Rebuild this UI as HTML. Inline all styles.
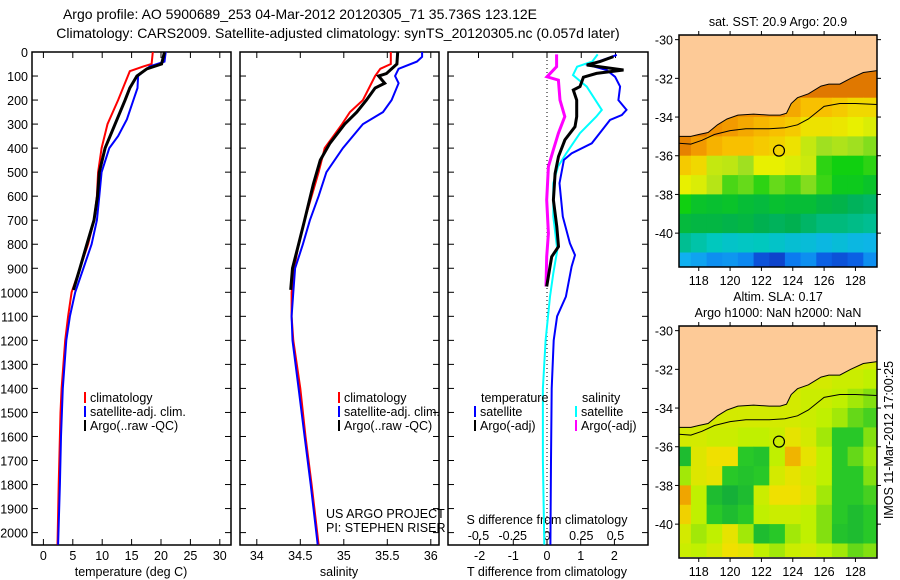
<!DOCTYPE html>
<html><head><meta charset="utf-8"><style>
body{margin:0;background:#fff}
svg{display:block;font-family:"Liberation Sans",Arial,sans-serif}
text{font-size:12.5px;fill:#000}
</style></head><body>
<svg id="c" width="900" height="580" viewBox="0 0 900 580" xmlns="http://www.w3.org/2000/svg">
<defs>
<clipPath id="cp1"><rect x="32" y="52" width="199" height="493"/></clipPath>
<clipPath id="cp2"><rect x="240" y="52" width="199" height="493"/></clipPath>
<clipPath id="cp3"><rect x="448" y="52" width="200" height="493"/></clipPath>
<clipPath id="cm1"><rect x="679" y="35" width="198" height="232"/></clipPath>
<clipPath id="cm2"><rect x="679" y="326" width="198" height="231"/></clipPath>
</defs>
<text x="300" y="19" text-anchor="middle" style="font-size:14px">Argo profile: AO 5900689_253 04-Mar-2012 20120305_71 35.736S 123.12E</text>
<text x="338" y="38" text-anchor="middle" style="font-size:14px">Climatology: CARS2009. Satellite-adjusted climatology: synTS_20120305.nc (0.057d later)</text>
<text x="778" y="26" text-anchor="middle">sat. SST: 20.9 Argo: 20.9</text>
<text x="778" y="301" text-anchor="middle">Altim. SLA: 0.17</text>
<text x="778" y="317" text-anchor="middle">Argo h1000: NaN h2000: NaN</text>
<text transform="translate(893,440) rotate(-90)" text-anchor="middle">IMOS 11-Mar-2012 17:00:25</text>
<g id="g"></g>
</svg>
<script>
// ---------- data ----------
const tDepth = [0,50,60,80,110,200,300,400,500,600,700,800,900,1000,1100,1200,1300,1400,1500,1600,1800,2050];
const tClim  = [18.6,18.4,17,14.7,14.2,12.7,10.9,9.9,9.3,9.1,8.6,7.6,6.2,4.8,4.2,3.7,3.4,3.1,2.9,2.8,2.6,2.4];
const tSatDepth = [0,40,60,100,150,200,280,350,400,500,600,700,800,900,1000,1100,1200,1400,1600,1800,2050];
const tSat   = [20.8,20.6,18.1,16.1,16,15.3,14.2,12.7,11.2,9.9,9.5,9.1,8.2,6.8,5.4,4.5,3.9,3.3,3.0,2.8,2.5];
const argoDepth = [0,50,70,100,150,200,300,400,500,600,700,800,900,990];
const tArgo  = [20.6,20.1,17.6,15.9,14.7,13.9,12.2,10.5,9.5,9.2,8.6,7.4,6.2,5.1];
const sDepth = [0,50,70,100,200,250,300,400,500,600,700,800,900,1000,1100,1200,1400,1600,1800,2050];
const sClim  = [35.54,35.54,35.42,35.36,35.22,35.07,34.98,34.78,34.71,34.63,34.55,34.48,34.43,34.40,34.40,34.42,34.5,34.56,34.63,34.71];
const sSatDepth = [0,20,40,70,100,130,200,250,300,400,500,600,700,800,900,1000,1100,1200,1400,1600,1800,2050];
const sSat   = [35.9,35.9,35.84,35.63,35.59,35.63,35.55,35.45,35.22,34.99,34.80,34.71,34.61,34.53,34.44,34.42,34.40,34.41,34.48,34.55,34.62,34.70];
const sArgoDepth = [0,50,90,100,130,150,200,250,300,380,450,550,700,800,900,990];
const sArgo  = [35.62,35.61,35.49,35.40,35.47,35.36,35.26,35.15,35.01,34.84,34.73,34.65,34.55,34.48,34.41,34.39];
const dTSatDepth = [12,54,75,103,144,200,241,262,283,380,422,449,546,685,796,845,893,1018,1100,1200,1400,1700,2050];
const dTSat = [2.07,1.23,1.77,2.02,2.17,2.12,2.36,2.22,1.87,1.33,0.73,0.50,0.37,0.47,0.68,0.83,0.73,0.56,0.3,0.2,0.14,0.12,0.1];
const dTArgoDepth = [19,40,54,75,89,105,144,158,200,269,311,366,435,505,616,727,810,852,893,976];
const dTArgo = [1.97,1.57,1.18,2.27,1.47,1.08,0.98,0.78,0.88,0.88,0.83,0.53,0.34,0.24,0.19,0.29,0.34,0.14,0.09,-0.01];
const dSSatDepth = [10,40,61,96,144,241,269,338,422,477,546,685,824,921,1018,1200,1400,1700,2050];
const dSSat = [0.37,0.33,0.22,0.19,0.29,0.40,0.36,0.24,0.14,0.08,0.046,0.046,0.075,0.046,0.022,-0.01,-0.03,-0.03,-0.02];
const dSArgoDepth = [10,61,103,117,200,269,338,408,477,616,755,852,976];
const dSArgo = [0.07,0.07,0.0,0.083,0.095,0.13,0.083,0.046,0.01,-0.002,0.01,-0.002,-0.007];
const depthTicks = [0,100,200,300,400,500,600,700,800,900,1000,1100,1200,1300,1400,1500,1600,1700,1800,1900,2000];
const tTicks = [0,5,10,15,20,25,30];
const sTicks = [34,34.5,35,35.5,36];
const sTickLabels = ["34","34.5","35","35.5","36"];
const dTTicks = [-2,-1,0,1,2];
const dSTicks = [-0.5,-0.25,0,0.25,0.5];
const dSTickLabels = ["-0.5","-0.25","0","0.25","0.5"];
const mapLons = [117,118,119,120,121,122,123,124,125,126,127,128,129];
const mapLats = [-30.5,-31.5,-32.5,-33.5,-34.5,-35.5,-36.5,-37.5,-38.5,-39.5,-40.5,-41.5];
const sstGrid = [
[22,22,22,22,22,22,22,22,22,22,22,22,22],
[22.5,22.5,22.5,22.5,22.5,22.5,22.5,22.5,22.5,22.5,22.5,22.5,22.5],
[22,22,22,22,22,22,22,22.5,22.5,22.5,22.5,22.5,22.5],
[22,22,22,22,22,22,22,21.5,21,21,20.8,20.5,20.5],
[22.5,22.5,22,21.8,21.5,21.2,21,20.8,20.3,20.3,20.2,20,19.8],
[22.3,21.8,21.3,21,21,20.8,20.6,20.3,19.5,19,19.2,19,18.8],
[20.8,20.5,19.5,19.4,19,20,20,19.8,19.6,18.2,18,18,18.2],
[20,19.8,19.3,18.4,18.6,18.2,18.6,18.4,18.8,18.3,17.8,17.8,17.6],
[18,17.6,17.5,17.6,17.4,17.3,17.5,17.4,17.4,17.2,17.1,16.9,16.8],
[17.3,17.2,17.2,17.1,17.2,17,16.9,17,16.8,16.6,16.6,16.5,16.4],
[16.4,16.2,16,15.8,15.9,16,15.8,15.6,15.5,15.3,15.5,15.3,15.2],
[15,14.8,14.5,14.6,14.4,13.6,13.4,14.2,14.5,13.8,13.6,13.8,14.5]];
const slaGrid = [
[0.18,0.18,0.18,0.18,0.18,0.18,0.18,0.18,0.18,0.18,0.18,0.18,0.18],
[0.18,0.18,0.18,0.18,0.18,0.18,0.18,0.18,0.18,0.18,0.18,0.18,0.17],
[0.18,0.18,0.18,0.18,0.18,0.18,0.18,0.17,0.17,0.17,0.16,0.16,0.15],
[0.17,0.17,0.17,0.17,0.17,0.17,0.17,0.17,0.16,0.16,0.15,0.14,0.13],
[0.17,0.17,0.17,0.17,0.17,0.17,0.17,0.17,0.16,0.15,0.14,0.12,0.11],
[0.17,0.17,0.16,0.16,0.15,0.15,0.16,0.19,0.17,0.14,0.1,0.1,0.13],
[0.08,0.18,0.2,0.2,0.1,0.09,0.15,0.23,0.19,0.15,0.1,0.12,0.14],
[0.14,0.18,0.19,0.1,0.09,0.1,0.17,0.19,0.17,0.15,0.1,0.1,0.13],
[0.24,0.15,0.08,0.06,0.08,0.16,0.2,0.2,0.18,0.14,0.1,0.1,0.11],
[0.21,0.15,0.1,0.08,0.1,0.15,0.16,0.16,0.15,0.13,0.1,0.08,0.1],
[0.17,0.14,0.15,0.19,0.14,0.08,0.1,0.14,0.15,0.13,0.09,0.08,0.1],
[0.16,0.15,0.17,0.2,0.19,0.15,0.14,0.16,0.17,0.15,0.14,0.12,0.13]];
const coastLon = [116.7,117.5,118,118.6,119.2,119.8,120.5,121.5,122.5,123.2,123.6,123.9,124.3,125,125.8,126.3,127,127.7,128.5,129.4];
const coastLat = [-35,-35,-34.9,-34.8,-34.4,-34.1,-33.9,-33.85,-33.9,-33.9,-33.8,-33.3,-33,-32.8,-32.4,-32.3,-32.3,-32,-31.7,-31.6];
const isoLon = [116.7,117.5,118.2,119,120,121,122.5,123.5,124.3,125,126,127,128,129.4];
const isoLat = [-35.35,-35.4,-35.2,-34.9,-34.7,-34.6,-34.6,-34.55,-34.4,-34.1,-33.45,-33.3,-33.3,-33.35];
const argoLon = 123.12, argoLat = -35.736;
const mapLonTicks = [118,120,122,124,126,128];
const mapLatTicks = [-30,-32,-34,-36,-38,-40];

// ---------- scales ----------
const NS="http://www.w3.org/2000/svg";
const G=document.getElementById('g');
const depthY=d=>52+d*0.2403;
const tX=t=>43.4+t*5.88;
const sX=s=>256.8+(s-34)*87;
const dTX=v=>547+v*33.7;
const dSX=v=>547+v*137;
const lonX1=l=>679+(l-116.74)*15.67;
const latY1=l=>35+(-29.76-l)*19.35;
const latY2=l=>326+(-29.76-l)*19.35;
function mk(tag,attrs,parent){const e=document.createElementNS(NS,tag);for(const k in attrs)e.setAttribute(k,attrs[k]);(parent||G).appendChild(e);return e;}
function txt(x,y,s,anchor,parent){const e=mk('text',{x:x,y:y,'text-anchor':anchor||'start'},parent);e.textContent=s;return e;}

function line(xs,ds,fx,color,w,clip,name){
  const pts=xs.map((v,i)=>fx(v).toFixed(1)+','+depthY(ds[i]).toFixed(1)).join(' ');
  const p=mk('polyline',{points:pts,fill:'none',stroke:color,'stroke-width':w,'stroke-linejoin':'miter','clip-path':'url(#'+clip+')'});
  
  
}

// panels
const panels=[[32,'cp1','temperature-panel'],[240,'cp2','salinity-panel'],[448,'cp3','difference-panel']];
panels.forEach(([x0,c,n],i)=>{
  const r=mk('rect',{x:x0,y:52,width:i==2?200:199,height:493,fill:'none',stroke:'#000','stroke-width':1.5});
  
  
  depthTicks.forEach(d=>{const y=depthY(d);
    mk('line',{x1:x0,x2:x0+6,y1:y,y2:y,stroke:'#000'});
    mk('line',{x1:x0+(i==2?200:199)-6,x2:x0+(i==2?200:199),y1:y,y2:y,stroke:'#000'});});
});
depthTicks.forEach(d=>{const t=txt(28,depthY(d)+5,String(d),'end');
  
  });
tTicks.forEach(v=>{const x=tX(v);mk('line',{x1:x,x2:x,y1:52,y2:58,stroke:'#000'});mk('line',{x1:x,x2:x,y1:539,y2:545,stroke:'#000'});
  const t=txt(x,560,String(v),'middle');
  
  });
sTicks.forEach((v,i)=>{const x=sX(v);mk('line',{x1:x,x2:x,y1:52,y2:58,stroke:'#000'});mk('line',{x1:x,x2:x,y1:539,y2:545,stroke:'#000'});
  const t=txt(x,560,sTickLabels[i],'middle');
  
  });
dTTicks.forEach(v=>{const x=dTX(v);mk('line',{x1:x,x2:x,y1:539,y2:545,stroke:'#000'});
  const t=txt(x,560,String(v),'middle');
  
  });
dSTicks.forEach((v,i)=>{const x=dSX(v);mk('line',{x1:x,x2:x,y1:52,y2:58,stroke:'#000'});
  const t=txt(x,540,dSTickLabels[i],'middle');
  
  });
mk('line',{x1:547,x2:547,y1:52,y2:545,stroke:'#000','stroke-dasharray':'1,3'});

[[131,576,'temperature (deg C)','x-axis-title-temperature'],[339,576,'salinity','x-axis-title-salinity'],[547,576,'T difference from climatology','x-axis-title-t-diff'],[547,524,'S difference from climatology','s-diff-axis-title']].forEach(a=>{
  const t=txt(a[0],a[1],a[2],'middle');
  
  });

// series
line(tClim,tDepth,tX,'#f00',2,'cp1','temp-climatology-line');
line(tSat,tSatDepth,tX,'#00f',2,'cp1','temp-satellite-line');
line(tArgo,argoDepth,tX,'#000',3,'cp1','temp-argo-line');
line(sClim,sDepth,sX,'#f00',2,'cp2','sal-climatology-line');
line(sSat,sSatDepth,sX,'#00f',2,'cp2','sal-satellite-line');
line(sArgo,sArgoDepth,sX,'#000',3,'cp2','sal-argo-line');
line(dSSat,dSSatDepth,dSX,'#0ff',2,'cp3','s-diff-satellite-line');
line(dSArgo,dSArgoDepth,dSX,'#f0f',3,'cp3','s-diff-argo-line');
line(dTSat,dTSatDepth,dTX,'#00f',2,'cp3','t-diff-satellite-line');
line(dTArgo,dTArgoDepth,dTX,'#000',3,'cp3','t-diff-argo-line');

// legends
function leg(x,y,color,label,name){
  mk('rect',{x:x,y:y-10,width:2,height:11,fill:color});
  const t=txt(x+6,y,label);
  
  }
[[84,'legend-temp'],[338,'legend-sal']].forEach(([x,n])=>{
  leg(x,402,'#f00','climatology',n+'-climatology');
  leg(x,416,'#00f','satellite-adj. clim.',n+'-satellite');
  leg(x,430,'#000','Argo(..raw -QC)',n+'-argo');});
txt(481,402,'temperature');txt(582,402,'salinity');
leg(474,416,'#00f','satellite','legend-diff-t-satellite');
leg(474,430,'#000','Argo(-adj)','legend-diff-t-argo');
leg(575,416,'#0ff','satellite','legend-diff-s-satellite');
leg(575,430,'#f0f','Argo(-adj)','legend-diff-s-argo');
txt(326,518,'US ARGO PROJECT');txt(326,532,'PI: STEPHEN RISER');

// maps
function interpC(stops,v){
  if(v<=stops[0][0])return 'rgb('+stops[0][1].join(',')+')';
  for(let i=1;i<stops.length;i++){if(v<=stops[i][0]){const a=stops[i-1],b=stops[i],f=(v-a[0])/(b[0]-a[0]);
    const c=a[1].map((x,k)=>Math.round(x+(b[1][k]-x)*f));return 'rgb('+c.join(',')+')';}}
  return 'rgb('+stops[stops.length-1][1].join(',')+')';}
const sstStops=[[13,[16,40,180]],[14,[10,110,240]],[15,[16,176,240]],[16,[0,200,190]],[17,[0,176,80]],[18,[16,208,16]],[19,[160,224,32]],[20,[232,240,0]],[21,[248,192,0]],[22,[240,144,0]],[23,[208,96,0]]];
const slaStops=[[0.05,[16,170,60]],[0.1,[40,200,40]],[0.15,[192,240,0]],[0.2,[240,224,0]],[0.25,[240,150,0]]];
function drawMap(grid,stops,latY,clip,top,name){
  const gg=mk('g',{'clip-path':'url(#'+clip+')'});
  
  
  grid.forEach((row,ri)=>row.forEach((v,ci)=>{
    const x=lonX1(mapLons[ci]-0.5),y=latY(mapLats[ri]+0.5);
    const c=mk('rect',{x:x.toFixed(1),y:y.toFixed(1),width:16.2,height:19.8,fill:interpC(stops,v)},gg);
    
    }));
  let pts=coastLon.map((l,i)=>lonX1(l).toFixed(1)+','+latY(coastLat[i]).toFixed(1)).join(' ');
  pts+=' '+lonX1(130)+','+latY(coastLat[coastLat.length-1])+' '+lonX1(130)+','+(top-5)+' '+lonX1(116)+','+(top-5)+' '+lonX1(116)+','+latY(coastLat[0]);
  const land=mk('polygon',{points:pts,fill:'#fdca97',stroke:'none'},gg);
  
  
  mk('polyline',{points:coastLon.map((l,i)=>lonX1(l).toFixed(1)+','+latY(coastLat[i]).toFixed(1)).join(' '),fill:'none',stroke:'#000','stroke-width':1},gg);
  mk('polyline',{points:isoLon.map((l,i)=>lonX1(l).toFixed(1)+','+latY(isoLat[i]).toFixed(1)).join(' '),fill:'none',stroke:'#000','stroke-width':1},gg);
  const ci=mk('circle',{cx:lonX1(argoLon),cy:latY(argoLat),r:5.5,fill:'none',stroke:'#000','stroke-width':1.2},gg);
  
  
  const bottom=top+232;
  mk('rect',{x:679,y:top,width:198,height:232,fill:'none',stroke:'#000','stroke-width':1.5});
  mapLonTicks.forEach(l=>{const x=lonX1(l);mk('line',{x1:x,x2:x,y1:top-4,y2:top,stroke:'#000'});mk('line',{x1:x,x2:x,y1:bottom,y2:bottom+4,stroke:'#000'});
    const t=txt(x,bottom+18,String(l),'middle');
    
    });
  mapLatTicks.forEach(l=>{const y=latY(l);mk('line',{x1:675,x2:679,y1:y,y2:y,stroke:'#000'});mk('line',{x1:877,x2:881,y1:y,y2:y,stroke:'#000'});
    const t=txt(673,y+5,String(l),'end');
    
    });
}
drawMap(sstGrid,sstStops,latY1,'cm1',35,'sst-map');
drawMap(slaGrid,slaStops,latY2,'cm2',326,'sla-map');
</script>
</body></html>
